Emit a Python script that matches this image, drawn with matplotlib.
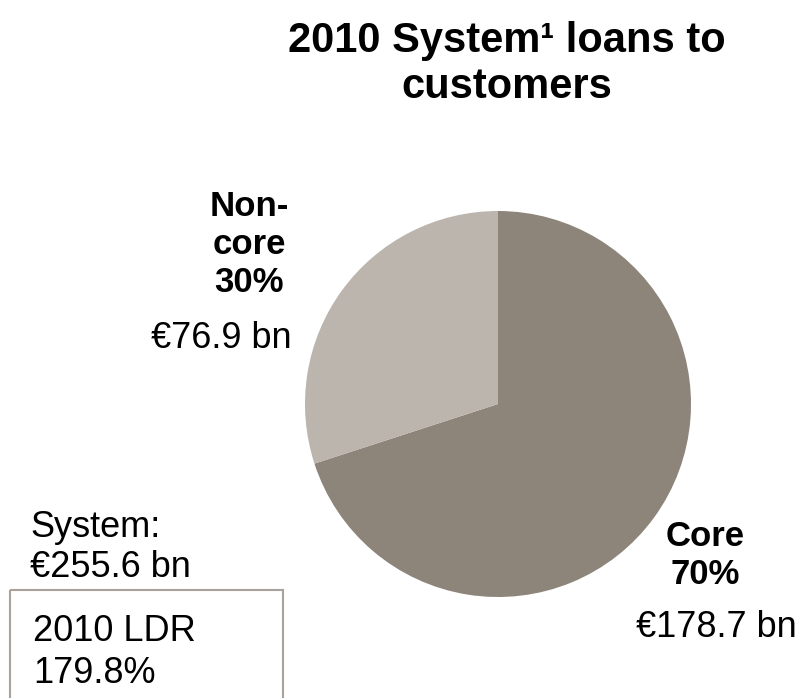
import matplotlib.pyplot as plt
from matplotlib.patches import Rectangle

plt.rcParams['font.family'] = ['Liberation Sans', 'DejaVu Sans']

segments = ['Core', 'Non-core']
segment_labels = ['Core\n70%', 'Non-\ncore\n30%']
shares = [70, 30]
amounts = [178.7, 76.9]
system_total = 255.6
ldr_2010 = 179.8
colors = ['#8d847a', '#bcb5ae']

W, H = 803, 698

fig = plt.figure(figsize=(W / 100, H / 100), dpi=100)
ax = fig.add_axes([0, 0, 1, 1])

# y axis runs downwards, so the pie goes "counterclockwise" from -90
# to end up clockwise from twelve o'clock on screen
ax.pie(shares, colors=colors, startangle=-90, counterclock=True,
       center=(498, 404), radius=193, wedgeprops=dict(linewidth=0))

ax.set_xlim(0, W)
ax.set_ylim(H, 0)
ax.set_aspect('equal')
ax.axis('off')

ax.text(507, 98, '2010 System\u00b9 loans to\ncustomers', ha='center',
        va='baseline', fontsize=30, fontweight='bold', linespacing=1.2)

# segment labels with their euro amounts
label_pos = {'Core': (705, 584, 716, 637), 'Non-core': (249, 292, 221, 348)}
for name, lab, amt in zip(segments, segment_labels, amounts):
    lx, ly, ax_, ay = label_pos[name]
    ax.text(lx, ly, lab, ha='center', va='baseline', fontsize=25,
            fontweight='bold', linespacing=1.2)
    ax.text(ax_, ay, f'\u20ac{amt} bn', ha='center', va='baseline',
            fontsize=26)

ax.text(30, 577, f'System:\n\u20ac{system_total} bn', ha='left',
        va='baseline', fontsize=26, linespacing=1.2)

ax.add_patch(Rectangle((10, 590), 273, 130, fill=False, edgecolor='#a9a19a',
                       linewidth=1.5, clip_on=True))
ax.text(33, 683, f'2010 LDR\n{ldr_2010}%', ha='left', va='baseline',
        fontsize=26, linespacing=1.25)

fig.savefig('out.png', dpi=100)
